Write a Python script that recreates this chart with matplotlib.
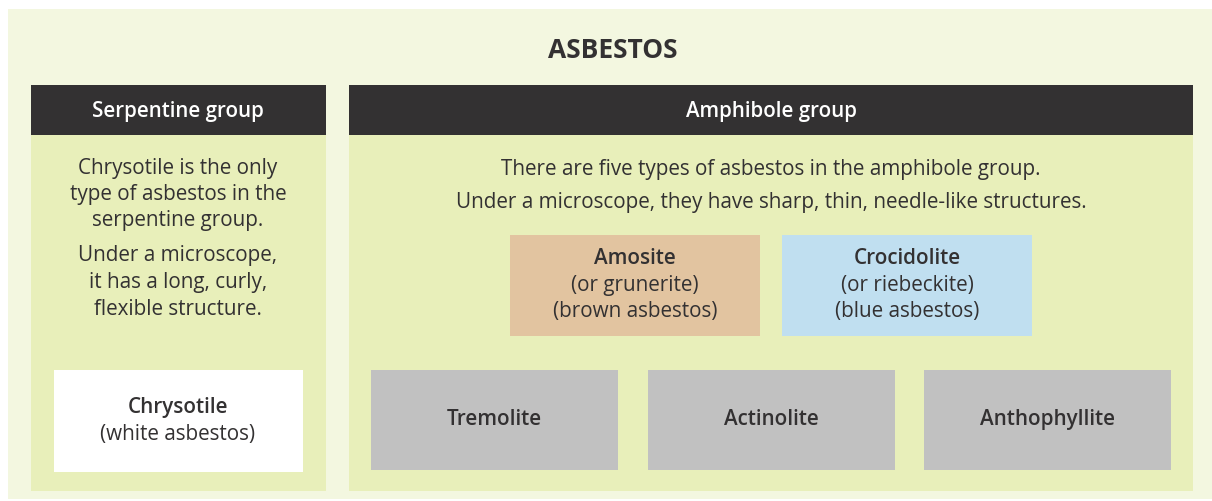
import matplotlib.pyplot as plt
from matplotlib.patches import Rectangle

plt.rcParams['font.family'] = ['Open Sans', 'DejaVu Sans']

title = "ASBESTOS"
groups = ["Serpentine group", "Amphibole group"]
serpentine_text = ["Chrysotile is the only", "type of asbestos in the",
                   "serpentine group.", "Under a microscope,",
                   "it has a long, curly,", "flexible structure."]
amphibole_text = ["There are five types of asbestos in the amphibole group.",
                  "Under a microscope, they have sharp, thin, needle-like structures."]
top_types = ["Amosite", "Crocidolite"]
top_alt = [["(or grunerite)", "(brown asbestos)"], ["(or riebeckite)", "(blue asbestos)"]]
bottom_types = ["Tremolite", "Actinolite", "Anthophyllite"]
chrysotile = ["Chrysotile", "(white asbestos)"]

TXT = "#333132"
FS = 14.9
fig = plt.figure(figsize=(12.12, 5.02), dpi=100)
ax = fig.add_axes([0, 0, 1, 1])
ax.set_xlim(0, 1212)
ax.set_ylim(502, 0)
ax.axis("off")


def box(x0, y0, x1, y1, color):
    ax.add_patch(Rectangle((x0, y0), x1 - x0, y1 - y0, facecolor=color, edgecolor="none"))


def label(x, y, s, size=FS, weight="normal", color=TXT):
    ax.text(x, y + 1, s, ha="center", va="center", fontsize=size, fontweight=weight, color=color)


box(8, 10, 1212, 500, "#f3f7e0")
label(613, 49, title, size=19, weight="bold")

# group panels
box(31, 86, 326, 492, "#e8efba")
box(349, 86, 1193, 492, "#e8efba")
box(31, 86, 326, 136, "#333132")
box(349, 86, 1193, 136, "#333132")
label(178, 111, groups[0], size=14.8, weight="semibold", color="white")
label(771, 111, groups[1], size=14.8, weight="semibold", color="white")

ys = [168, 194, 220, 255, 282, 309]
for y, t in zip(ys, serpentine_text):
    label(178, y, t)
for y, t in zip([169, 202], amphibole_text):
    label(771, y, t)

# amosite / crocidolite
for x0, col, name, alt in zip([510, 782], ["#e2c4a0", "#c0dff0"], top_types, top_alt):
    box(x0, 236, x0 + 250, 337, col)
    cx = x0 + 125
    label(cx, 258, name, weight="semibold")
    label(cx, 285, alt[0])
    label(cx, 311, alt[1])

# chrysotile
box(54, 371, 303, 473, "white")
label(178, 407, chrysotile[0], weight="semibold")
label(178, 434, chrysotile[1])

# other amphiboles
for x0, name in zip([371, 648, 924], bottom_types):
    box(x0, 371, x0 + 247, 471, "#c1c1c1")
    label(x0 + 123.5, 419, name, weight="semibold")

fig.savefig("out.png", dpi=100, facecolor="white")
